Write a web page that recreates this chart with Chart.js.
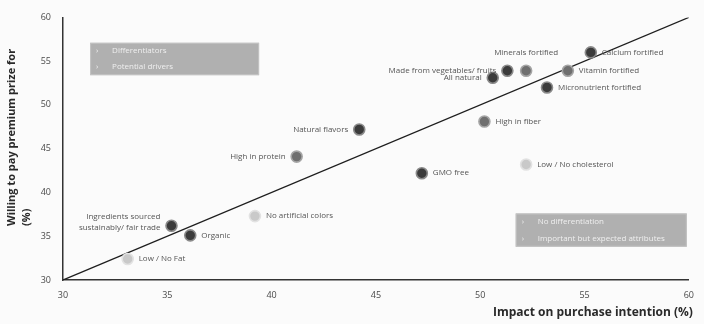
<!DOCTYPE html>
<html><head><meta charset="utf-8">
<script src="https://cdn.jsdelivr.net/npm/chart.js@4"></script>
<style>html,body{margin:0;padding:0;background:#fbfbfb;}#wrap{width:704px;height:324px;position:relative;}</style>
</head><body><div id="wrap"><canvas id="c" width="704" height="324"></canvas></div>
<script>
const attributes = ["Calcium fortified","Minerals fortified","Made from vegetables/ fruits","Vitamin fortified","All natural","Micronutrient fortified","High in fiber","Natural flavors","High in protein","GMO free","Low / No cholesterol","Ingredients sourced|sustainably/ fair trade","Organic","No artificial colors","Low / No Fat"];
const impact  = [55.3, 52.2, 51.3, 54.2, 50.6, 53.2, 50.2, 44.2, 41.2, 47.2, 52.2, 35.2, 36.1, 39.2, 33.1];
const premium = [56.0, 53.9, 53.9, 53.9, 53.1, 52.0, 48.1, 47.2, 44.1, 42.2, 43.2, 36.2, 35.1, 37.3, 32.4];
const group   = ["A","B","A","B","A","A","B","A","B","A","C","A","A","C","C"];
const xTicks = [30,35,40,45,50,55,60];
const yTicks = [30,35,40,45,50,55,60];
const parity = [30, 60];
const legendTopLeft = ["Differentiators","Potential drivers"];
const legendBottomRight = ["No differentiation","Important but expected attributes"];

const fills = {A:"#3b3b3b", B:"#6f6f6f", C:"#c9c9c9"};
const rings = {A:"#8a8a8a", B:"#a5a5a5", C:"#e2e2e2"};
const sides = {0:"r",1:"t",2:"l",3:"r",4:"l",5:"r",6:"r",7:"l",8:"l",9:"r",10:"r",11:"l",12:"r",13:"r",14:"r"};

const overlay = {
  id:"overlay",
  afterDatasetsDraw(chart){
    const ctx = chart.ctx, xs = chart.scales.x, ys = chart.scales.y;
    ctx.save();
    ctx.font = "8px 'Open Sans', sans-serif";
    ctx.fillStyle = "#555";
    ctx.textBaseline = "middle";
    attributes.forEach((t,i)=>{
      const px = xs.getPixelForValue(impact[i]), py = ys.getPixelForValue(premium[i]);
      const lines = t.split("|");
      const s = sides[i];
      lines.forEach((ln,k)=>{
        const dy = (k-(lines.length-1)/2)*11 - (lines.length>1?4:0);
        if (s==="r"){ctx.textAlign="left";ctx.fillText(ln,px+11,py+dy);}
        else if (s==="l"){ctx.textAlign="right";ctx.fillText(ln,px-11,py+dy);}
        else {ctx.textAlign="center";ctx.fillText(ln,px,py-18);}
      });
    });
    const box = (x0,x1,y0,y1,lines)=>{
      const l=xs.getPixelForValue(x0), r=xs.getPixelForValue(x1), t=ys.getPixelForValue(y0), b=ys.getPixelForValue(y1);
      ctx.fillStyle="#b0b0b0"; ctx.fillRect(l,t,r-l,b-t);
      ctx.strokeStyle="#c4c4c4"; ctx.lineWidth=1; ctx.strokeRect(l+0.5,t+0.5,r-l-1,b-t-1);
      ctx.font="8px 'Open Sans', sans-serif"; ctx.fillStyle="#efefef"; ctx.textAlign="left"; ctx.textBaseline="middle";
      const h=(b-t)/lines.length;
      lines.forEach((ln,k)=>{
        const cy=t+h*(k+0.5);
        ctx.fillText("\u203A",l+6,cy);
        ctx.fillText(ln,l+22,cy);
      });
    };
    box(31.3,39.4,57.1,53.4,legendTopLeft);
    box(51.7,59.9,37.6,33.8,legendBottomRight);
    ctx.fillStyle="#2a2a2a";
    ctx.font="bold 12px 'Open Sans', sans-serif";
    ctx.textAlign="left"; ctx.textBaseline="middle";
    ctx.fillText("Impact on purchase intention (%)",493,313);
    ctx.font="bold 11px 'Open Sans', sans-serif";
    ctx.save();
    ctx.translate(12,226); ctx.rotate(-Math.PI/2);
    ctx.fillText("Willing to pay premium prize for",0,0);
    ctx.restore();
    ctx.save();
    ctx.translate(27,226); ctx.rotate(-Math.PI/2);
    ctx.fillText("(%)",0,0);
    ctx.restore();
    ctx.restore();
  }
};

new Chart(document.getElementById("c"),{
  type:"scatter",
  data:{datasets:[
    {type:"line",data:parity.map(v=>({x:v,y:v})),borderColor:"#1e1e1e",borderWidth:1.3,pointRadius:0,fill:false,order:2},
    {data:impact.map((v,i)=>({x:v,y:premium[i]})),
     backgroundColor:group.map(g=>fills[g]),borderColor:group.map(g=>rings[g]),
     borderWidth:1.6,pointRadius:5.5,pointHoverRadius:5.5,order:1}
  ]},
  options:{
    responsive:false,animation:false,
    layout:{padding:{top:17,right:14,left:0,bottom:0}},
    plugins:{legend:{display:false},tooltip:{enabled:false}},
    scales:{
      x:{type:"linear",min:30,max:60,
         afterBuildTicks(s){s.ticks=xTicks.map(v=>({value:v}));},
         afterFit(s){s.height=44;},
         grid:{display:true,color:"rgba(0,0,0,0)",drawTicks:false},
         border:{display:true,color:"#333",width:1.5},
         ticks:{padding:10,color:"#4a4a4a",font:{family:"'Open Sans', sans-serif",size:9}}},
      y:{type:"linear",min:30,max:60,
         afterBuildTicks(s){s.ticks=yTicks.map(v=>({value:v}));},
         afterFit(s){s.width=63;},
         grid:{display:true,color:"rgba(0,0,0,0)",drawTicks:false},
         border:{display:true,color:"#333",width:1.5},
         ticks:{padding:12,color:"#4a4a4a",font:{family:"'Open Sans', sans-serif",size:9}}}
    }
  },
  plugins:[overlay]
});
</script></body></html>
